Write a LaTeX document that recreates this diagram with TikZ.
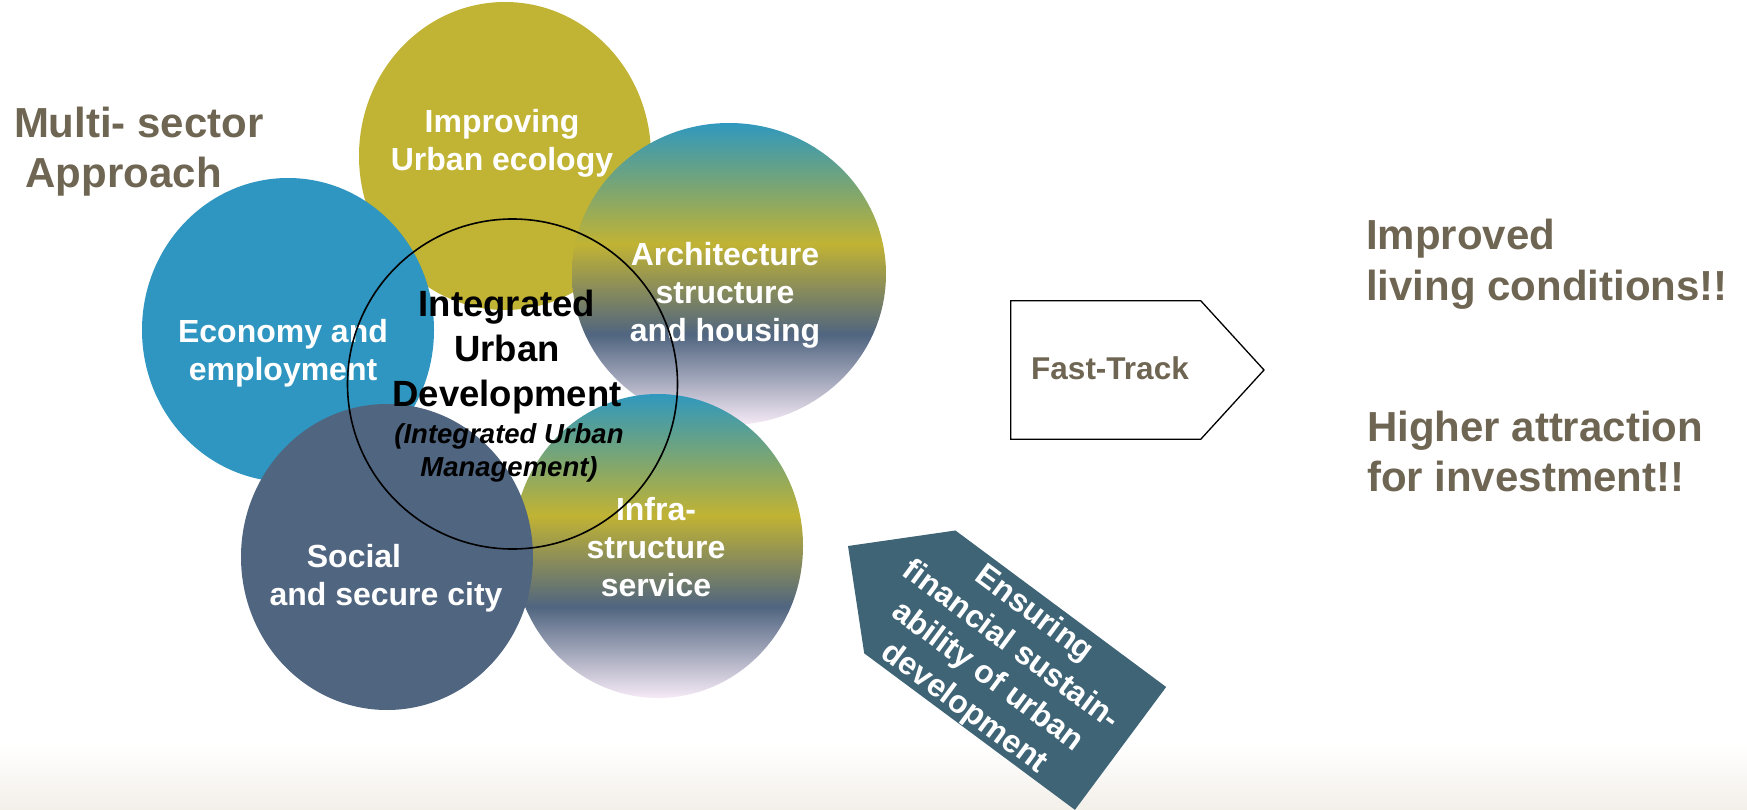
\documentclass[tikz,border=0pt]{standalone}
\usepackage{fontspec}
\setmainfont{Liberation Sans}
\usetikzlibrary{positioning, calc}

\definecolor{ecoolive}{RGB}{193,179,52}
\definecolor{econblue}{RGB}{46,150,192}
\definecolor{socialslate}{RGB}{80,101,128}
\definecolor{fadeteal}{RGB}{48,152,190}
\definecolor{fadegreen}{RGB}{125,166,112}
\definecolor{fadepink}{RGB}{246,234,246}
\definecolor{taupe}{RGB}{111,101,83}
\definecolor{fundteal}{RGB}{62,100,118}
\definecolor{floorbeige}{RGB}{243,239,233}

% teal on top, olive band, slate band, pale pink at the bottom
\pgfdeclareverticalshading{sectorfade}{100bp}{color(0bp)=(fadepink); color(25bp)=(fadepink); color(40bp)=(socialslate); color(55bp)=(ecoolive); color(64bp)=(fadegreen); color(75bp)=(fadeteal); color(100bp)=(fadeteal)}

\tikzset{
  urban/.style={
	x=1pt, y=1pt, % one unit is one point
	line join=miter,
	inner sep=0pt, outer sep=0pt,
  },
  sector/.style={text=white, align=center, anchor=base, font=\fontsize{32}{38}\selectfont\bfseries}, % labels on the discs, placed by their last line
  headline/.style={text=taupe, align=left, anchor=base west, font=\fontsize{42}{50.7}\selectfont\bfseries}, % side statements
  core/.style={text=black, align=center, anchor=base, font=\fontsize{36.5}{45}\selectfont\bfseries},
  coresub/.style={text=black, align=center, anchor=base, font=\fontsize{27.5}{33.4}\selectfont\bfseries\itshape},
}

\begin{document}
\begin{tikzpicture}[urban]
\useasboundingbox (0,-810) rectangle (1747,0);

% floor band
\shade[top color=white, bottom color=floorbeige] (0,-745) rectangle (1747,-810);

% sector discs, back to front
\fill[ecoolive] (505,-156) ellipse [x radius=146, y radius=154];
\fill[econblue] (288,-330) ellipse [x radius=146, y radius=152];
\shade[shading=sectorfade] (729,-274) ellipse [x radius=157, y radius=151];
\shade[shading=sectorfade] (658,-546) ellipse [x radius=145, y radius=152];
\fill[socialslate] (387,-557) ellipse [x radius=146, y radius=153];

\node[sector] (ecology) at (502,-171) {Improving\\Urban ecology};
\node[sector] (economy) at (283,-380) {Economy and\\employment};
\node[sector] (architecture) at (725,-341.7) {Architecture\\structure\\and housing};
\node[sector] (infra) at (656,-596.7) {Infra-\\structure\\service};
\node[sector] (social) at (386,-605.5) {Social\hspace*{64pt}\\and secure city};

% integrating ring
\draw[line width=1.6] (512.5,-384) circle [radius=165];
\node[core] (integrated) at (507,-406.7) {Integrated\\Urban\\Development};
\node[coresub] (management) at (509,-476.7) {(Integrated Urban\\Management)};

\node[headline] (multisector) at (14,-188) {Multi- sector\\\ Approach};
\node[headline] (living) at (1366,-300) {Improved\\living conditions!!};
\node[headline] (investment) at (1367,-491.7) {Higher attraction\\for investment!!};

% fast-track arrow
\draw[line width=1.3] (1010.7,-300.7) -- (1200.7,-300.7) -- (1264,-370) -- (1200.7,-439.3) -- (1010.7,-439.3) -- cycle;
\node[text=taupe, anchor=base, font=\fontsize{31.5}{36}\selectfont\bfseries] (fasttrack) at (1110,-379) {Fast-Track};

% funding arrow, pointing back at the discs
\begin{scope}[shift={(848,-546)}, rotate=-36.6]
  \fill[fundteal] (0,0) -- (77,76.5) -- (339.5,76.5) -- (339.5,-76.5) -- (77,-76.5) -- cycle;
  \node[transform shape, text=white, align=center, font=\fontsize{32}{39}\selectfont\bfseries] (funding) at (190,-2.75) {Ensuring\\financial sustain-\\ability of urban\\development};
\end{scope}
\end{tikzpicture}
\end{document}
